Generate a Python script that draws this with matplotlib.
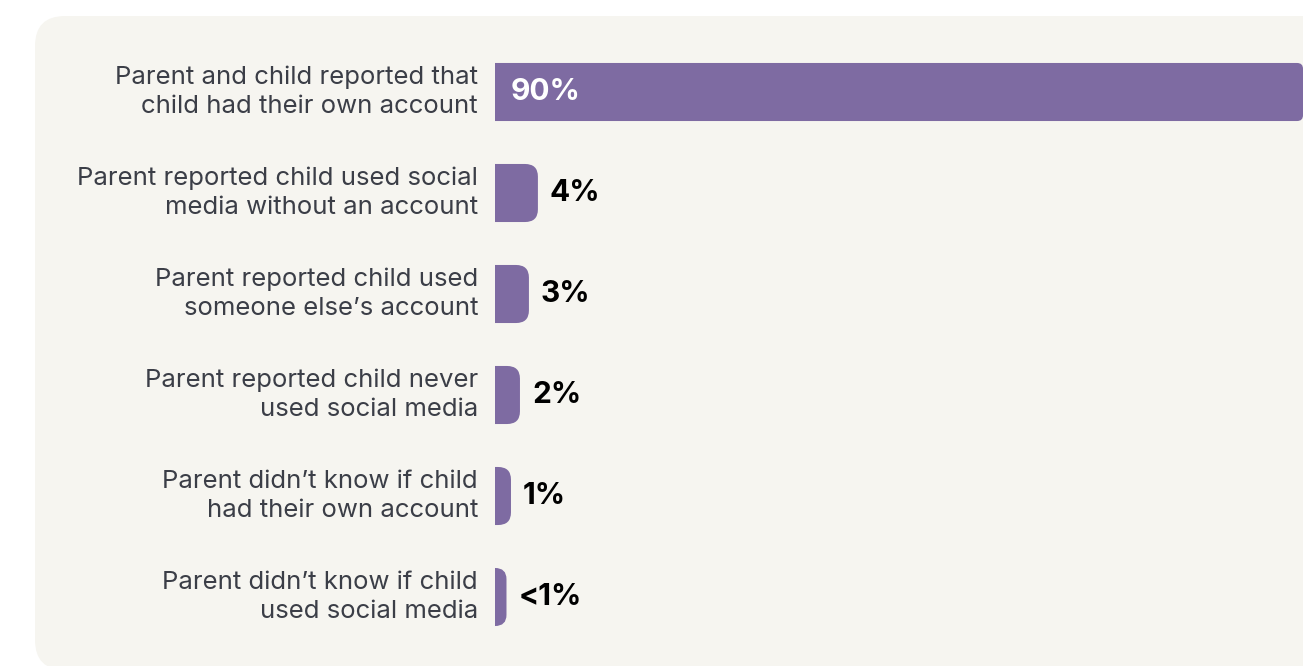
import matplotlib
matplotlib.use('Agg')
import matplotlib.pyplot as plt
from matplotlib.patches import FancyBboxPatch, PathPatch
from matplotlib.path import Path
from matplotlib.transforms import offset_copy

# how the child's social media use was reported
labels = [
    'Parent and child reported that\nchild had their own account',
    'Parent reported child used social\nmedia without an account',
    'Parent reported child used\nsomeone else\u2019s account',
    'Parent reported child never\nused social media',
    'Parent didn\u2019t know if child\nhad their own account',
    'Parent didn\u2019t know if child\nused social media',
]
values = [90, 4, 3, 2, 1, 0.5]
value_text = ['90%', '4%', '3%', '2%', '1%', '<1%']

BAR = '#7e6ba2'
PANEL = '#f6f5f0'
LABEL = '#3b3e47'

W, H, DPI = 1303, 666, 100
fig = plt.figure(figsize=(W / DPI, H / DPI), dpi=DPI)
fig.patch.set_facecolor('white')

# rounded background card, laid out in pixels
bg = fig.add_axes([0, 0, 1, 1])
bg.set_xlim(0, W)
bg.set_ylim(H, 0)
bg.axis('off')
bg.add_patch(FancyBboxPatch((35, 16), 1320, 654,
                            boxstyle='round,pad=0,rounding_size=30',
                            fc=PANEL, ec='none'))

# bar area
x0_px, top_px, bot_px = 495, 31.4, 657.6
ax = fig.add_axes([x0_px / W, 1 - bot_px / H, 1 - x0_px / W, (bot_px - top_px) / H])
ax.set_xlim(0, 90)
n = len(values)
ax.set_ylim(n - 0.4, -0.6)
ax.axis('off')

kx = 90 / (W - x0_px)            # data units per pixel, x
ky = n / (bot_px - top_px)       # data units per pixel, y
bar_h = 60 * ky
cap_px = 7


def bar_path(w, y):
    w_px = w / kx + cap_px
    r_px = 6 if w_px > 200 else min(13, w_px)
    xe = min(w + cap_px * kx, 90)
    rx, ry = r_px * kx, r_px * ky
    t, b = y - bar_h / 2, y + bar_h / 2
    verts = [(0, t), (xe - rx, t), (xe, t), (xe, t + ry), (xe, b - ry),
             (xe, b), (xe - rx, b), (0, b), (0, t)]
    codes = [Path.MOVETO, Path.LINETO, Path.CURVE3, Path.CURVE3, Path.LINETO,
             Path.CURVE3, Path.CURVE3, Path.LINETO, Path.CLOSEPOLY]
    return Path(verts, codes), xe


lab_tr = offset_copy(ax.transData, fig=fig, x=-17, y=0, units='dots')
for i, (lab, v, txt) in enumerate(zip(labels, values, value_text)):
    path, xe = bar_path(v, i)
    ax.add_patch(PathPatch(path, fc=BAR, ec='none'))
    ax.text(0, i, lab, transform=lab_tr, ha='right', va='center',
            fontsize=18.5, color=LABEL, family='Inter', linespacing=1.32)
    if v > 20:
        tr = offset_copy(ax.transData, fig=fig, x=16, y=0, units='dots')
        ax.text(0, i, txt, transform=tr, ha='left', va='center',
                fontsize=21.5, fontweight='bold', color='white', family='Inter')
    else:
        tr = offset_copy(ax.transData, fig=fig, x=12, y=0, units='dots')
        ax.text(xe, i, txt, transform=tr, ha='left', va='center',
                fontsize=21.5, fontweight='bold', color='black', family='Inter')

fig.savefig('out.png', dpi=DPI, facecolor='white')
